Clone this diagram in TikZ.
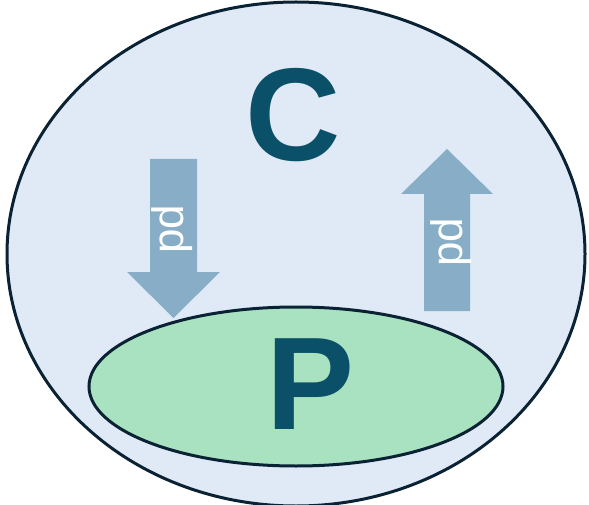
\documentclass[tikz,border=0pt]{standalone}
\usepackage{fontspec}
\setmainfont{Liberation Sans}
\definecolor{outerfill}{HTML}{DFEAF6}
\definecolor{innerfill}{HTML}{A9E2C0}
\definecolor{edgecol}{HTML}{0A2233}
\definecolor{arrowcol}{HTML}{87AEC6}
\definecolor{lettercol}{HTML}{0B5069}
\begin{document}
\begin{tikzpicture}[x=1pt,y=-1pt,
  region/.style={draw=edgecol,line width=3pt},
  bigletter/.style={inner sep=0pt,text=lettercol,font=\fontsize{132}{132}\selectfont\bfseries},
  blockarrow/.style={fill=arrowcol,draw=none},
  arrowlabel/.style={inner sep=0pt,text=white,rotate=90,font=\fontsize{44}{44}\selectfont}]
\useasboundingbox (0,0) rectangle (589,505);
\draw[region,fill=outerfill] (296,254) ellipse [x radius=289,y radius=252];
\coordinate (outer) at (296,254);
\draw[region,fill=innerfill] (296,386.5) ellipse [x radius=207,y radius=79.5];
\coordinate (inner) at (296,386.5);
\node[bigletter] (C) at (293,115.5) {C};
\node[bigletter] (P) at (311,384.5) {P};
% down arrow
\fill[blockarrow] (150,159) -- (197,159) -- (197,272) -- (220,272) -- (173.5,318)
  -- (127,272) -- (150,272) -- cycle;
\node[arrowlabel] (pd1) at (172,229) {pd};
% up arrow
\fill[blockarrow] (424,311) -- (470,311) -- (470,194) -- (493,194) -- (447,149)
  -- (401,194) -- (424,194) -- cycle;
\node[arrowlabel] (pd2) at (451,242) {pd};
\end{tikzpicture}
\end{document}
